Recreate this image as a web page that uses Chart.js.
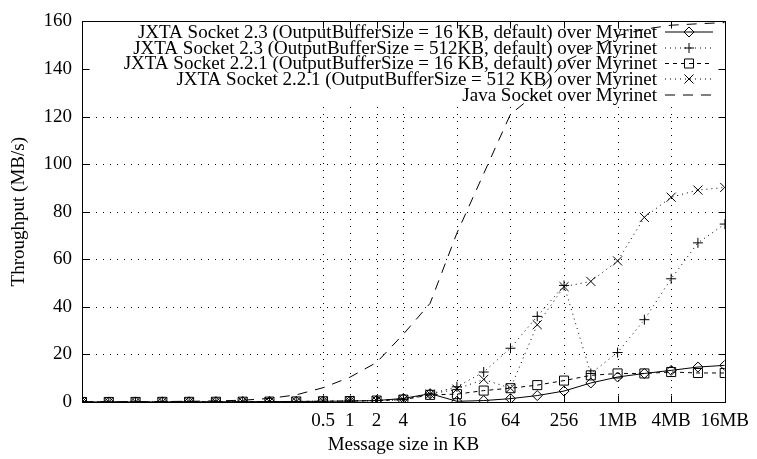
<!DOCTYPE html>
<html>
<head>
<meta charset="utf-8">
<script src="https://cdn.jsdelivr.net/npm/chart.js@4.4.1/dist/chart.umd.min.js"></script>
<style>
  html, body { margin: 0; padding: 0; background: #fff; }
  canvas { display: block; }
</style>
</head>
<body>
<canvas id="chart" width="757" height="459"></canvas>
<script>
// message sizes (KB), 1 byte .. 16MB
const msgSizeKB = [1/1024, 1/512, 1/256, 1/128, 1/64, 1/32, 1/16, 1/8, 1/4, 1/2,
                   1, 2, 4, 8, 16, 32, 64, 128, 256, 512, 1024, 2048, 4096, 8192, 16384];

// throughput in MB/s
const jxta23Buf16 = [0.01, 0.02, 0.03, 0.05, 0.07, 0.1, 0.13, 0.17, 0.22, 0.3,
                     0.4, 0.6, 1.5, 3.5, 0.3, 0.6, 1.4, 2.7, 4.6, 8.0, 10.5, 12.0, 13.3, 14.7, 15.4];
const jxta23Buf512 = [0.01, 0.02, 0.03, 0.05, 0.07, 0.1, 0.13, 0.17, 0.22, 0.3,
                      0.4, 0.6, 1.0, 3.4, 6.4, 12.6, 22.6, 36.0, 49.0, 12.0, 20.8, 34.6, 51.8, 66.9, 74.8];
const jxta221Buf16 = [0.01, 0.02, 0.03, 0.05, 0.07, 0.1, 0.13, 0.17, 0.22, 0.3,
                      0.4, 0.6, 1.0, 3.0, 3.3, 4.8, 5.8, 7.1, 9.0, 11.2, 12.0, 12.0, 12.6, 12.2, 12.2];
const jxta221Buf512 = [0.01, 0.02, 0.03, 0.05, 0.07, 0.1, 0.13, 0.17, 0.22, 0.3,
                       0.4, 0.6, 1.0, 3.3, 5.4, 9.5, 5.8, 32.5, 48.5, 50.7, 59.3, 77.6, 86.1, 89.1, 90.2];
const javaSocket = [0.1, 0.12, 0.15, 0.2, 0.3, 0.45, 0.75, 1.5, 3.0, 6.0,
                    10.4, 16.6, 28.5, 41.5, 71, 96, 121, 130, 143, 148.5, 154, 156.7, 158.4, 159, 159.5];

const seriesLabels = [
    'JXTA Socket 2.3 (OutputBufferSize = 16 KB, default) over Myrinet',
    'JXTA Socket 2.3 (OutputBufferSize = 512KB, default) over Myrinet',
    'JXTA Socket 2.2.1 (OutputBufferSize = 16 KB, default) over Myrinet',
    'JXTA Socket 2.2.1 (OutputBufferSize = 512 KB) over Myrinet',
    'Java Socket over Myrinet'
];

const xTickValues = [0.5, 1, 2, 4, 16, 64, 256, 1024, 4096, 16384];
const xTickLabels = ['0.5', '1', '2', '4', '16', '64', '256', '1MB', '4MB', '16MB'];

const FONT = 'Liberation Serif, Times New Roman, serif';
const FONT_SIZE = 19;

function points(values) {
    return msgSizeKB.map((x, i) => ({x: x, y: values[i]}));
}

const styles = [
    {dash: [], pointStyle: 'rectRot', radius: 5},
    {dash: [1, 4], pointStyle: 'cross', radius: 5},
    {dash: [4, 4], pointStyle: 'rect', radius: 6.4},
    {dash: [1, 4], pointStyle: 'crossRot', radius: 6.4},
    {dash: [10, 8], pointStyle: false, radius: 0}
];

const allValues = [jxta23Buf16, jxta23Buf512, jxta221Buf16, jxta221Buf512, javaSocket];

const datasets = allValues.map((vals, i) => ({
    label: seriesLabels[i],
    data: points(vals),
    borderColor: '#000',
    backgroundColor: 'rgba(0,0,0,0)',
    borderWidth: 1,
    borderDash: styles[i].dash,
    pointStyle: styles[i].pointStyle,
    pointRadius: styles[i].radius,
    pointBorderWidth: 1,
    pointBorderColor: '#000',
    pointBackgroundColor: 'rgba(0,0,0,0)',
    tension: 0
}));

const KEY_BOTTOM = 105;
const KEY_ROWS = [32, 48, 63.5, 79, 95];

function drawMarker(ctx, style, r, x, y) {
    ctx.beginPath();
    if (style === 'rectRot') {
        ctx.moveTo(x, y - r); ctx.lineTo(x + r, y); ctx.lineTo(x, y + r); ctx.lineTo(x - r, y); ctx.closePath();
    } else if (style === 'rect') {
        const s = r * Math.SQRT1_2;
        ctx.rect(x - s, y - s, 2 * s, 2 * s);
    } else if (style === 'cross') {
        ctx.moveTo(x - r, y); ctx.lineTo(x + r, y); ctx.moveTo(x, y - r); ctx.lineTo(x, y + r);
    } else if (style === 'crossRot') {
        const s = r * Math.SQRT1_2;
        ctx.moveTo(x - s, y - s); ctx.lineTo(x + s, y + s); ctx.moveTo(x - s, y + s); ctx.lineTo(x + s, y - s);
    }
    ctx.stroke();
}

const gnuplotFrame = {
    id: 'gnuplotFrame',
    beforeDatasetsDraw(chart) {
        const {ctx, chartArea: a, scales: {x, y}} = chart;
        ctx.save();
        ctx.strokeStyle = '#000';
        ctx.lineWidth = 1;
        ctx.setLineDash([1, 6]);
        // dotted grid, hidden behind the key
        y.ticks.forEach(t => {
            const py = Math.round(y.getPixelForValue(t.value)) + 0.5;
            if (py < KEY_BOTTOM || py > a.bottom - 2) return;
            ctx.beginPath(); ctx.moveTo(a.left, py); ctx.lineTo(a.right, py); ctx.stroke();
        });
        xTickValues.forEach(v => {
            const px = Math.round(x.getPixelForValue(v)) + 0.5;
            if (px > a.right - 2) return;
            ctx.beginPath(); ctx.moveTo(px, a.bottom); ctx.lineTo(px, KEY_BOTTOM); ctx.stroke();
        });

        // key
        ctx.font = FONT_SIZE + 'px ' + FONT;
        ctx.fillStyle = '#000';
        ctx.textAlign = 'right';
        ctx.textBaseline = 'middle';
        seriesLabels.forEach((label, i) => {
            const ry = KEY_ROWS[i];
            ctx.fillText(label, 657, ry + 1);
            ctx.setLineDash(styles[i].dash);
            ctx.beginPath(); ctx.moveTo(665, ry); ctx.lineTo(713, ry); ctx.stroke();
            ctx.setLineDash([]);
            if (styles[i].pointStyle) drawMarker(ctx, styles[i].pointStyle, styles[i].radius, 689, ry);
        });
        ctx.restore();
    },
    afterDatasetsDraw(chart) {
        const {ctx, chartArea: a, scales: {x, y}} = chart;
        ctx.save();
        ctx.strokeStyle = '#000';
        ctx.lineWidth = 1;
        ctx.setLineDash([]);
        const L = Math.round(a.left) + 0.5, R = Math.round(a.right) + 0.5;
        const T = Math.round(a.top) + 0.5, B = Math.round(a.bottom) + 0.5;
        ctx.strokeRect(L, T, R - L, B - T);
        ctx.beginPath();
        y.ticks.forEach(t => {
            const py = Math.round(y.getPixelForValue(t.value)) + 0.5;
            ctx.moveTo(L, py); ctx.lineTo(L + 7, py);
            ctx.moveTo(R, py); ctx.lineTo(R - 7, py);
        });
        xTickValues.forEach(v => {
            const px = Math.round(x.getPixelForValue(v)) + 0.5;
            ctx.moveTo(px, B); ctx.lineTo(px, B - 7);
            ctx.moveTo(px, T); ctx.lineTo(px, T + 7);
        });
        ctx.stroke();
        ctx.restore();
    }
};

const config = {
    type: 'line',
    data: {datasets: datasets},
    options: {
        responsive: false,
        animation: false,
        events: [],
        layout: {padding: {top: 14, right: 25, left: 0, bottom: 0}},
        plugins: {
            legend: {display: false},
            tooltip: {enabled: false}
        },
        scales: {
            x: {
                type: 'logarithmic',
                min: 1/1024,
                max: 16384,
                bounds: 'data',
                grid: {display: false, drawTicks: false},
                border: {display: false},
                afterBuildTicks(scale) {
                    scale.ticks = xTickValues.map(v => ({value: v}));
                },
                afterFit(scale) { scale.height = 57; },
                ticks: {
                    autoSkip: false,
                    maxRotation: 0,
                    padding: 8,
                    color: '#000',
                    font: {family: FONT, size: FONT_SIZE},
                    callback: (v) => {
                        const i = xTickValues.indexOf(v);
                        return i >= 0 ? xTickLabels[i] : '';
                    }
                },
                title: {
                    display: true,
                    text: 'Message size in KB',
                    color: '#000',
                    font: {family: FONT, size: FONT_SIZE},
                    padding: {top: 3, bottom: 3}
                }
            },
            y: {
                min: 0,
                max: 160,
                grid: {display: false, drawTicks: false},
                border: {display: false},
                afterFit(scale) { scale.width = 82; },
                ticks: {
                    stepSize: 20,
                    padding: 10,
                    color: '#000',
                    font: {family: FONT, size: FONT_SIZE}
                },
                title: {
                    display: true,
                    text: 'Throughput (MB/s)',
                    color: '#000',
                    font: {family: FONT, size: FONT_SIZE},
                    padding: {top: 8, bottom: 0}
                }
            }
        }
    },
    plugins: [gnuplotFrame]
};

const myChart = new Chart(document.getElementById('chart'), config);
</script>
</body>
</html>
